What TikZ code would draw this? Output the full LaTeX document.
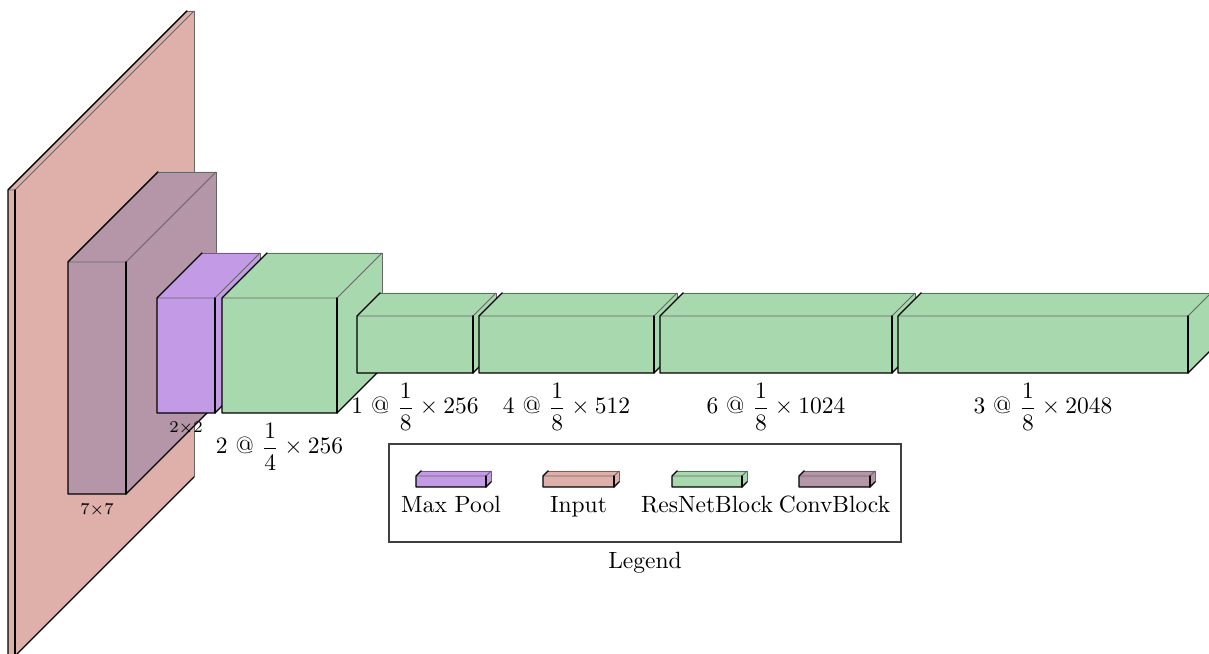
\documentclass[tikz,border=0pt]{standalone}
\usepackage{amsmath}
\definecolor{inputc}{RGB}{223,176,170}
\definecolor{convc}{RGB}{180,150,168}
\definecolor{poolc}{RGB}{195,154,230}
\definecolor{resc}{RGB}{168,216,174}

\tikzset{
  thinedge/.style={draw=black!60, line width=0.35pt},
  boldedge/.style={draw=black, line width=0.6pt, line cap=round, line join=round},
  blocklabel/.style={anchor=base, inner sep=0pt},
  kernellabel/.style={anchor=base, inner sep=0pt, font=\fontsize{7.5}{9}\selectfont},
  legendtext/.style={anchor=base, inner sep=0pt},
}

% \layerbox{name}{x left}{x right}{y top}{y bottom}{depth}{colour}
% draws a cuboid seen from the front-right; (name) is the bottom middle of the front face
\newcommand{\layerbox}[7]{%
  \fill[#7] (#2,#4) -- ({#2+#6},{#4-#6}) -- ({#3+#6},{#4-#6}) -- ({#3+#6},{#5-#6})
            -- (#3,#5) -- (#2,#5) -- cycle;
  \draw[thinedge] (#2,#4) -- (#3,#4) -- ({#3+#6},{#4-#6});
  \draw[thinedge] ({#2+#6},{#4-#6}) -- ({#3+#6},{#4-#6}) -- ({#3+#6},{#5-#6});
  \draw[boldedge] ({#2+#6},{#4-#6}) -- (#2,#4) -- (#2,#5) -- (#3,#5) -- ({#3+#6},{#5-#6});
  \draw[boldedge] (#3,#4) -- (#3,#5);
  \coordinate (#1) at ({(#2+#3)/2},#5);
}

\begin{document}
\begin{tikzpicture}[x=0.4255pt, y=-0.4255pt]
\useasboundingbox (0,0) rectangle (1209,654);
\clip (0,0) rectangle (1209,654);

% network layers, back to front
\layerbox{in}{8}{15}{190}{656}{179}{inputc}
\layerbox{conv}{68}{126}{262}{494}{90}{convc}
\layerbox{pool}{157}{215}{298}{413}{45}{poolc}
\layerbox{res1}{222}{337}{298}{413}{45}{resc}
\layerbox{res2}{357}{473}{316}{373}{23}{resc}
\layerbox{res3}{479}{654}{316}{373}{23}{resc}
\layerbox{res4}{660}{892}{316}{373}{23}{resc}
\layerbox{res5}{898}{1188}{316}{373}{23}{resc}

% kernel sizes
\path (conv) ++(0,21) node[kernellabel] (convk) {$7{\times}7$};
\path (pool) ++(0,20) node[kernellabel] (poolk) {$2{\times}2$};

% block captions
\path (res1) ++(0,41) node[blocklabel] (res1cap) {2 @ $\dfrac{1}{4}\times 256$};
\path (res2) ++(0,41) node[blocklabel] (res2cap) {1 @ $\dfrac{1}{8}\times 256$};
\path (res3) ++(0,41) node[blocklabel] (res3cap) {4 @ $\dfrac{1}{8}\times 512$};
\path (res4) ++(0,41) node[blocklabel] (res4cap) {6 @ $\dfrac{1}{8}\times 1024$};
\path (res5) ++(0,41) node[blocklabel] (res5cap) {3 @ $\dfrac{1}{8}\times 2048$};

% legend
\node[draw=black!75, line width=0.5pt, minimum width=217.9pt, minimum height=41.7pt,
      inner sep=0pt] (legendbox) at (645,493) {};
\layerbox{lgpool}{416}{486}{476}{487}{5}{poolc}
\layerbox{lginput}{543}{614}{476}{487}{5}{inputc}
\layerbox{lgres}{672}{742}{476}{487}{5}{resc}
\layerbox{lgconv}{799}{870}{476}{487}{5}{convc}
\path (lgpool) ++(0,26) node[legendtext] (lgpooltxt) {Max Pool};
\path (lginput) ++(0,26) node[legendtext] (lginputtxt) {Input};
\path (lgres) ++(0,26) node[legendtext] (lgrestxt) {ResNetBlock};
\path (lgconv) ++(0,26) node[legendtext] (lgconvtxt) {ConvBlock};
\path (legendbox.south) ++(0,26) node[legendtext] (legendtitle) {Legend};
\end{tikzpicture}
\end{document}
